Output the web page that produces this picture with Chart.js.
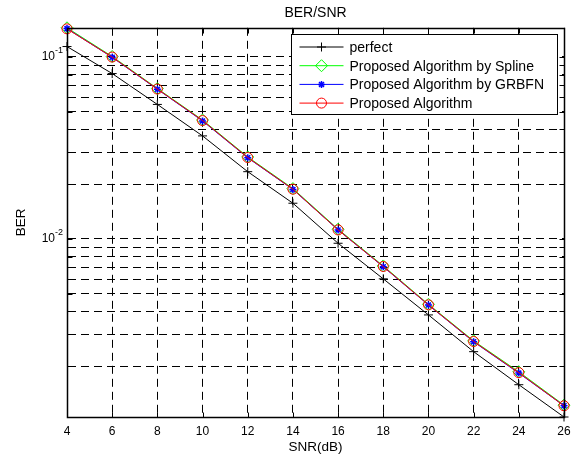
<!DOCTYPE html>
<html>
<head>
<meta charset="utf-8">
<title>BER/SNR</title>
<script src="https://cdn.jsdelivr.net/npm/chart.js@4/dist/chart.umd.min.js"></script>
<style>
  html, body { margin: 0; padding: 0; background: #fff; }
  #wrap { width: 579px; height: 456px; }
</style>
</head>
<body>
<div id="wrap"><canvas id="grafico"></canvas></div>
<script>
// SNR en dB (eje x)
const snr = [4, 6, 8, 10, 12, 14, 16, 18, 20, 22, 24, 26];

// BER de cada curva
const berPerfect = [0.114, 0.081, 0.0548, 0.0368, 0.0234, 0.0157, 0.00946, 0.00603, 0.00382, 0.0024, 0.00158, 0.00105];
const berSpline = [0.1445, 0.1005, 0.0670, 0.0450, 0.0282, 0.0189, 0.0113, 0.0071, 0.00437, 0.00275, 0.00186, 0.00122];
const berGrbfn = [0.1430, 0.0995, 0.0664, 0.0445, 0.0279, 0.0187, 0.0112, 0.00703, 0.00433, 0.00272, 0.00183, 0.00121];
const berProposed = [0.1426, 0.0998, 0.0666, 0.0447, 0.0280, 0.01875, 0.0112, 0.00705, 0.00434, 0.00273, 0.00184, 0.00121];

const seriesNames = ['perfect', 'Proposed Algorithm by Spline', 'Proposed Algorithm by GRBFN', 'Proposed Algorithm'];

// lineas de la rejilla en y y etiquetas (potencias de 10)
const yTicks = [0.002, 0.003, 0.004, 0.005, 0.006, 0.007, 0.008, 0.009, 0.01,
                0.02, 0.03, 0.04, 0.05, 0.06, 0.07, 0.08, 0.09, 0.1];
const yLabelTicks = [0.01, 0.1];
const xTicks = [4, 6, 8, 10, 12, 14, 16, 18, 20, 22, 24, 26];

const FONT = 'Liberation Sans, Arial, Helvetica, sans-serif';

function puntos(valores) {
    return snr.map((x, i) => ({ x: x, y: valores[i] }));
}

// como "axis tight": limites segun los datos
const todos = [].concat(berPerfect, berSpline, berGrbfn, berProposed);
const yMin = Math.min(...todos);
const yMax = Math.max(...todos);

const estilos = [
    { color: '#000000', pointStyle: 'cross', radius: 4.5, borderWidth: 1 },
    { color: '#00ff00', pointStyle: 'rectRot', radius: 6, borderWidth: 1 },
    { color: '#0000ff', pointStyle: 'star', radius: 3.5, borderWidth: 1.5 },
    { color: '#ff0000', pointStyle: 'circle', radius: 5, borderWidth: 1 }
];
const valores = [berPerfect, berSpline, berGrbfn, berProposed];

const datasets = valores.map((v, i) => ({
    label: seriesNames[i],
    data: puntos(v),
    borderColor: estilos[i].color,
    backgroundColor: 'rgba(0,0,0,0)',
    borderWidth: 1,
    pointStyle: estilos[i].pointStyle,
    pointRadius: estilos[i].radius,
    pointBorderWidth: estilos[i].borderWidth,
    pointBorderColor: estilos[i].color,
    pointBackgroundColor: 'rgba(0,0,0,0)',
    tension: 0,
    clip: false,
    order: 3 - i
}));

// caja, marcas interiores, etiquetas 10^n y leyenda
const marcoPlugin = {
    id: 'marco',
    afterDraw(chart) {
        const ctx = chart.ctx;
        const area = chart.chartArea;
        const xs = chart.scales.x;
        const ys = chart.scales.y;
        const L = Math.round(area.left) + 0.5;
        const R = Math.round(area.right) + 0.5;
        const T = Math.round(area.top) + 0.5;
        const B = Math.round(area.bottom) + 0.5;
        const largo = 5;

        ctx.save();
        ctx.strokeStyle = '#000';
        ctx.lineWidth = 1;
        ctx.setLineDash([]);
        ctx.beginPath();
        xTicks.forEach(v => {
            const px = Math.round(xs.getPixelForValue(v)) + 0.5;
            ctx.moveTo(px, B); ctx.lineTo(px, B - largo);
            ctx.moveTo(px, T); ctx.lineTo(px, T + largo);
        });
        yTicks.forEach(v => {
            const py = Math.round(ys.getPixelForValue(v)) + 0.5;
            ctx.moveTo(L, py); ctx.lineTo(L + largo, py);
            ctx.moveTo(R, py); ctx.lineTo(R - largo, py);
        });
        ctx.stroke();
        ctx.lineWidth = 1.5;
        ctx.strokeRect(L, T, R - L, B - T);

        // etiquetas del eje y con exponente
        ctx.fillStyle = '#000';
        ctx.textBaseline = 'middle';
        yLabelTicks.forEach(v => {
            const py = ys.getPixelForValue(v);
            const exp = String(Math.round(Math.log10(v)));
            ctx.font = '9px ' + FONT;
            const wExp = ctx.measureText(exp).width;
            const xExp = area.left - 4 - wExp;
            ctx.textAlign = 'left';
            ctx.fillText(exp, xExp, py - 6);
            ctx.font = '12px ' + FONT;
            ctx.textAlign = 'right';
            ctx.fillText('10', xExp, py);
        });

        // leyenda
        const lx = 291.5, ly = 34.5, lw = 266, lh = 80;
        ctx.fillStyle = '#fff';
        ctx.fillRect(lx, ly, lw, lh);
        ctx.lineWidth = 1;
        ctx.strokeStyle = '#000';
        ctx.strokeRect(lx, ly, lw, lh);
        ctx.font = '14px ' + FONT;
        ctx.textAlign = 'left';
        ctx.textBaseline = 'middle';
        chart.data.datasets.forEach((ds, i) => {
            const y = ly + 12.5 + i * 18.7;
            ctx.strokeStyle = ds.borderColor;
            ctx.lineWidth = 1;
            ctx.beginPath();
            ctx.moveTo(lx + 8, y);
            ctx.lineTo(lx + 52, y);
            ctx.stroke();
            ctx.fillStyle = 'rgba(0,0,0,0)';
            ctx.lineWidth = ds.pointBorderWidth;
            Chart.helpers.drawPoint(ctx, {
                pointStyle: ds.pointStyle,
                radius: ds.pointRadius,
                rotation: 0,
                borderWidth: ds.pointBorderWidth
            }, lx + 30, y);
            ctx.fillStyle = '#000';
            ctx.fillText(ds.label, lx + 58, y + 1);
        });
        ctx.restore();
    }
};

new Chart(document.getElementById('grafico').getContext('2d'), {
    type: 'line',
    data: { datasets: datasets },
    options: {
        responsive: true,
        maintainAspectRatio: false,
        animation: false,
        layout: { padding: { left: 0, right: 15, top: 0, bottom: 0 } },
        plugins: {
            legend: { display: false },
            tooltip: { enabled: false },
            title: {
                display: true,
                text: 'BER/SNR',
                fullSize: false,
                color: '#000',
                font: { family: FONT, size: 14, weight: 'normal' },
                padding: { top: 5, bottom: 6 }
            }
        },
        scales: {
            x: {
                type: 'linear',
                min: 4,
                max: 26,
                afterFit: s => { s.height = 39; },
                afterBuildTicks: s => { s.ticks = xTicks.map(v => ({ value: v })); },
                ticks: {
                    color: '#000',
                    padding: 7,
                    maxRotation: 0,
                    font: { family: FONT, size: 12 }
                },
                grid: { color: '#000', lineWidth: 1, drawTicks: false },
                border: { display: true, color: '#000', dash: [8, 5] },
                title: {
                    display: true,
                    text: 'SNR(dB)',
                    color: '#000',
                    font: { family: FONT, size: 13.5 },
                    padding: { top: 0, bottom: 1 }
                }
            },
            y: {
                type: 'logarithmic',
                min: yMin,
                max: yMax,
                afterFit: s => { s.width = 67; },
                afterBuildTicks: s => { s.ticks = yTicks.map(v => ({ value: v })); },
                ticks: { callback: () => '' },
                grid: { color: '#000', lineWidth: 1, drawTicks: false },
                border: { display: true, color: '#000', dash: [8, 5] },
                title: {
                    display: true,
                    text: 'BER',
                    color: '#000',
                    font: { family: FONT, size: 13.5 },
                    padding: { top: 13, bottom: 0 }
                }
            }
        }
    },
    plugins: [marcoPlugin]
});
</script>
</body>
</html>
